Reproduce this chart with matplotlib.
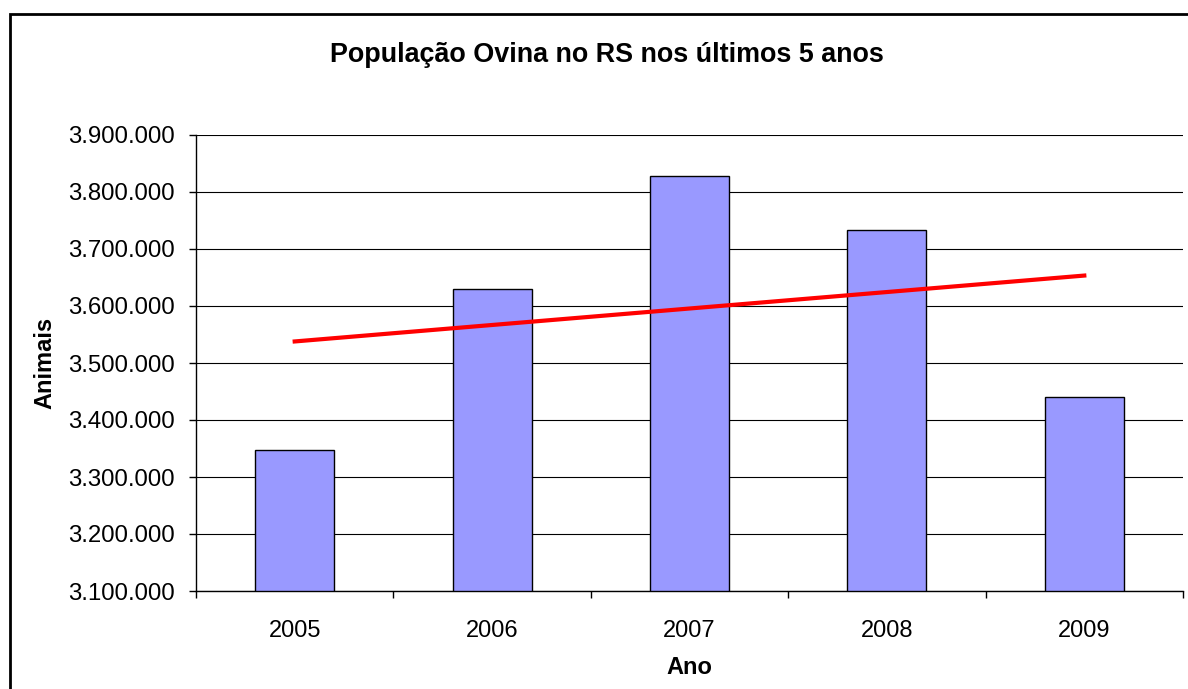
import numpy as np
import matplotlib.pyplot as plt
from matplotlib.patches import Rectangle
from matplotlib.ticker import FuncFormatter, FixedLocator

plt.rcParams['font.family'] = ['Liberation Sans', 'DejaVu Sans']

# dados (leitura do grafico)
anos = ['2005', '2006', '2007', '2008', '2009']
animais = [3347000, 3630000, 3828000, 3733000, 3440000]

x = np.arange(len(anos))
# tendencia linear (como no Excel)
coef = np.polyfit(x, animais, 1)
tend = np.polyval(coef, x)

fig = plt.figure(figsize=(11.88, 6.89), dpi=100)
ax = fig.add_axes([196/1188, 98/689, 987/1188, 456/689])

ax.bar(x, np.array(animais) - 3100000, bottom=3100000, width=0.4,
       color='#9999FF', edgecolor='black', linewidth=1.0, zorder=3)
ax.plot(x, tend, color='#FF0000', linewidth=3, zorder=4)

ax.set_xlim(-0.5, 4.5)
ax.set_ylim(3100000, 3900000)
ax.set_yticks(np.arange(3100000, 3900001, 100000))
ax.yaxis.set_major_formatter(FuncFormatter(lambda v, p: f'{int(v):,}'.replace(',', '.')))
ax.grid(axis='y', color='black', linewidth=0.8, zorder=0)

ax.set_xticks(x)
ax.set_xticklabels(anos)
ax.tick_params(axis='x', which='major', length=0, pad=21, labelsize=17)
ax.xaxis.set_minor_locator(FixedLocator(np.arange(-0.5, 5, 1)))
ax.tick_params(axis='x', which='minor', length=5, width=1)
ax.tick_params(axis='y', length=5, width=1, pad=10, labelsize=17.3)

for s in ['top', 'right']:
    ax.spines[s].set_visible(False)
for s in ['left', 'bottom']:
    ax.spines[s].set_linewidth(1)

ax.set_xlabel('Ano', fontsize=17, fontweight='bold', labelpad=10)
ax.set_ylabel('Animais', fontsize=17, fontweight='bold', labelpad=9)

fig.text(607/1188, 1 - 55/689, 'População Ovina no RS nos últimos 5 anos',
         ha='center', va='center', fontsize=19.4, fontweight='bold')

# moldura do grafico
fig.patches.append(Rectangle((10, -100), 1300, 689 - 14 + 100, transform=None,
                             fill=False, edgecolor='black', linewidth=2))

plt.savefig('out.png', dpi=100)
